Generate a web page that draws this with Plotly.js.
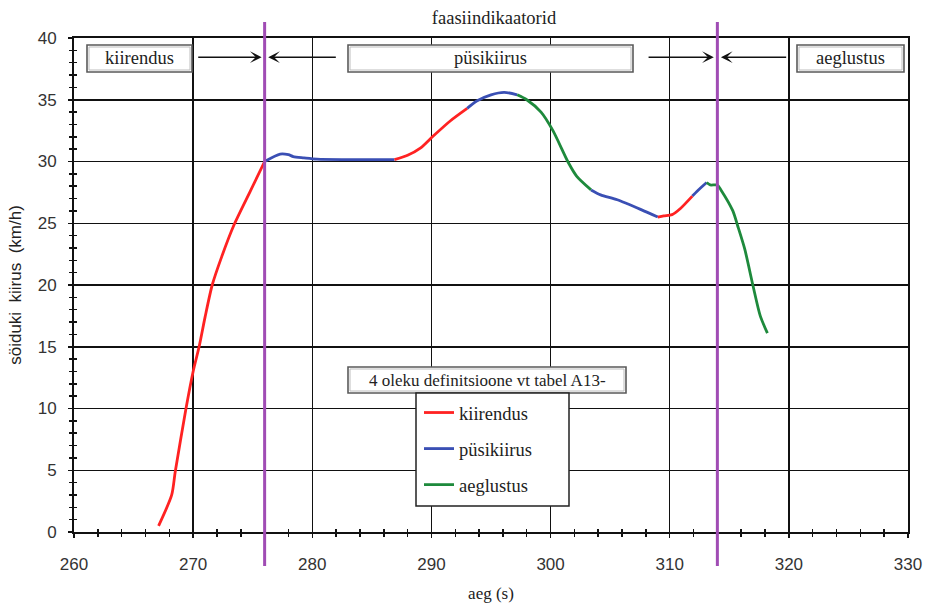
<!DOCTYPE html>
<html>
<head>
<meta charset="utf-8">
<script src="https://cdn.plot.ly/plotly-3.0.1.min.js"></script>
<style>html,body{margin:0;padding:0;background:#fff;}#chart{width:927px;height:606px;}</style>
</head>
<body>
<div id="chart"></div>
<script>
// ---- data ----
const time = [267.1, 268.2, 268.5, 269.4, 270.0, 270.5, 271.0, 271.6, 272.4, 273.4, 274.8, 276.0,
  277.3, 278.0, 278.4, 279.3, 280.4, 286.9,
  288.0, 289.1, 290.2, 291.6, 293.0,
  293.8, 295.0, 296.1, 297.2,
  298.0, 299.2, 300.2, 301.5, 302.2, 303.4,
  304.2, 305.6, 307.6, 309.0,
  309.5, 310.2, 310.9, 311.9,
  312.3, 313.1,
  313.4, 314.0, 314.3, 315.3, 315.7, 316.3, 317.0, 317.6, 318.2];
const speed = [0.5, 3.0, 4.9, 10.0, 13.0, 15.0, 17.4, 20.0, 22.3, 24.8, 27.6, 30.0,
  30.6, 30.55, 30.4, 30.3, 30.2, 30.15,
  30.5, 31.1, 32.1, 33.3, 34.3,
  34.9, 35.4, 35.6, 35.4,
  35.0, 34.0, 32.5, 29.9, 28.8, 27.7,
  27.3, 26.9, 26.1, 25.5,
  25.6, 25.7, 26.2, 27.2,
  27.6, 28.3,
  28.1, 28.1, 27.7, 26.0, 24.8, 22.9, 19.9, 17.5, 16.1];
const phase = ['K','K','K','K','K','K','K','K','K','K','K','K',
  'P','P','P','P','P','P',
  'K','K','K','K','K',
  'P','P','P','P',
  'A','A','A','A','A','A',
  'P','P','P','P',
  'K','K','K','K',
  'P','P',
  'A','A','A','A','A','A','A','A','A'];
const phaseNames = {K: 'kiirendus', P: 'püsikiirus', A: 'aeglustus'};
const phaseColors = {K: '#ff2222', P: '#3a4fb4', A: '#1e8a3c'};
const phaseMarkers = [276, 314];           // faasiindikaatorid (vertical lines)
const phaseBoxes = ['kiirendus', 'püsikiirus', 'aeglustus'];
const noteText = '4 oleku definitsioone vt tabel A13-';

// ---- build colored runs ----
const runs = [];
for (let i = 0; i < time.length; i++) {
  if (i === 0 || phase[i] !== phase[i - 1]) {
    const r = {p: phase[i], x: [], y: []};
    if (i > 0) { r.x.push(time[i - 1]); r.y.push(speed[i - 1]); }
    runs.push(r);
  }
  const cur = runs[runs.length - 1];
  cur.x.push(time[i]); cur.y.push(speed[i]);
}
const seen = {};
const traces = runs.map(r => {
  const show = !seen[r.p]; seen[r.p] = true;
  return {x: r.x, y: r.y, type: 'scatter', mode: 'lines', name: phaseNames[r.p],
    legendgroup: r.p, showlegend: show,
    line: {color: phaseColors[r.p], width: 2.8, shape: 'spline', smoothing: 0.7},
    hoverinfo: 'skip'};
});
traces.push({x: [260], y: [0], xaxis: 'x2', yaxis: 'y2', mode: 'markers', marker: {opacity: 0},
  showlegend: false, hoverinfo: 'skip'});

// ---- helpers for paper coordinates (plot area 74..908 x 38..532) ----
const L = 74, R = 908, T = 38, B = 532;
const px = v => (v - L) / (R - L);
const py = v => (B - v) / (B - T);

const serif = 'Liberation Serif, Times New Roman, serif';
const sans = 'Liberation Sans, Arial, sans-serif';

const shapes = [];
function grayBox(x0, x1, y0, y1) {
  shapes.push({type: 'rect', xref: 'paper', yref: 'paper', x0: px(x0), x1: px(x1), y0: py(y1), y1: py(y0),
    line: {color: '#5a5a5a', width: 1.6}, fillcolor: '#ffffff', layer: 'above'});
  shapes.push({type: 'rect', xref: 'paper', yref: 'paper', x0: px(x0 + 2), x1: px(x1 - 2), y0: py(y1 - 2), y1: py(y0 + 2),
    line: {color: '#bdbdbd', width: 1}, fillcolor: 'rgba(0,0,0,0)', layer: 'above'});
}
grayBox(87, 192, 45, 72);
grayBox(348, 633, 45, 72);
grayBox(797, 904, 45, 72);
grayBox(348, 626, 367, 393);
// legend frame
shapes.push({type: 'rect', xref: 'paper', yref: 'paper', x0: px(416), x1: px(569), y0: py(506), y1: py(393),
  line: {color: '#222', width: 1.5}, fillcolor: '#ffffff', layer: 'above'});
// phase indicator lines
phaseMarkers.forEach(t => shapes.push({type: 'line', xref: 'x', yref: 'paper', x0: t, x1: t,
  y0: py(566), y1: py(22), line: {color: '#a04cb4', width: 3}, layer: 'above'}));

const boxFont = {family: serif, size: 18.5, color: '#222'};
const annotations = [
  {text: phaseBoxes[0], xref: 'paper', yref: 'paper', x: px(139.5), y: py(57.5), xanchor: 'center', yanchor: 'middle', showarrow: false, font: boxFont},
  {text: phaseBoxes[1], xref: 'paper', yref: 'paper', x: px(490.5), y: py(57.5), xanchor: 'center', yanchor: 'middle', showarrow: false, font: boxFont},
  {text: phaseBoxes[2], xref: 'paper', yref: 'paper', x: px(850.5), y: py(57.5), xanchor: 'center', yanchor: 'middle', showarrow: false, font: boxFont},
  {text: noteText, xref: 'paper', yref: 'paper', x: px(487), y: py(380.5), xanchor: 'center', yanchor: 'middle', showarrow: false, font: {family: serif, size: 17, color: '#222'}}
];
const arrowY = 38.45;
[[275.75, 270.3], [276.3, 282.1], [313.7, 308.1], [314.3, 319.9]].forEach(([h, t]) => {
  annotations.push({text: '', x: h, y: arrowY, xref: 'x', yref: 'y', ax: t, ay: arrowY, axref: 'x', ayref: 'y',
    showarrow: true, arrowhead: 3, arrowsize: 1.3, arrowwidth: 1.5, arrowcolor: '#111', standoff: 0});
});

const layout = {
  width: 927, height: 606,
  margin: {l: L, r: 927 - R, t: T, b: 606 - B},
  paper_bgcolor: '#ffffff', plot_bgcolor: '#ffffff',
  showlegend: true,
  title: {text: 'faasiindikaatorid', font: {family: serif, size: 18.5, color: '#222'},
    x: 494 / 927, xanchor: 'center', y: 1 - 18 / 606, yanchor: 'middle'},
  xaxis: {range: [260, 330], tickmode: 'linear', tick0: 260, dtick: 10,
    showgrid: true, gridcolor: '#111', gridwidth: 1.5, zeroline: false,
    showline: true, linecolor: '#111', linewidth: 2, mirror: true,
    ticks: 'outside', ticklen: 4, tickwidth: 1.5, tickcolor: '#111',
    minor: {tickmode: 'linear', tick0: 260, dtick: 2, ticks: 'outside', ticklen: 3, tickwidth: 1.5, tickcolor: '#111', showgrid: false},
    tickfont: {family: sans, size: 17, color: '#333'}, ticklabelstandoff: 12,
    title: {text: 'aeg (s)', font: {family: serif, size: 17, color: '#222'}, standoff: 14}},
  yaxis: {range: [0, 40], tickmode: 'linear', tick0: 0, dtick: 5,
    showgrid: true, gridcolor: '#111', gridwidth: 1.5, zeroline: false,
    showline: true, linecolor: '#111', linewidth: 2, mirror: true,
    ticks: 'outside', ticklen: 4, tickwidth: 1.5, tickcolor: '#111',
    minor: {tickmode: 'linear', tick0: 0, dtick: 1, ticks: 'outside', ticklen: 3, tickwidth: 1.5, tickcolor: '#111', showgrid: false},
    tickfont: {family: sans, size: 17, color: '#333'}, ticklabelstandoff: 8,
    title: {text: 'söiduki\u00a0\u00a0kiirus\u00a0\u00a0(km/h)', font: {family: sans, size: 17, color: '#222'}, standoff: 12}},
  xaxis2: {overlaying: 'x', anchor: 'y', side: 'bottom', range: [260, 330], tickmode: 'linear', tick0: 260, dtick: 2,
    ticks: 'inside', ticklen: 3, tickwidth: 1.5, tickcolor: '#111', showticklabels: false, showgrid: false, showline: false, zeroline: false},
  yaxis2: {overlaying: 'y', anchor: 'x', side: 'left', range: [0, 40], tickmode: 'linear', tick0: 0, dtick: 1,
    ticks: 'inside', ticklen: 3, tickwidth: 1.5, tickcolor: '#111', showticklabels: false, showgrid: false, showline: false, zeroline: false},
  legend: {x: px(419), y: py(394), xanchor: 'left', yanchor: 'top', bgcolor: 'rgba(0,0,0,0)', borderwidth: 0,
    font: {family: serif, size: 18.5, color: '#222'}, tracegroupgap: 9, traceorder: 'grouped'},
  shapes: shapes,
  annotations: annotations
};

Plotly.newPlot('chart', traces, layout, {displayModeBar: false, staticPlot: true});
</script>
</body>
</html>
